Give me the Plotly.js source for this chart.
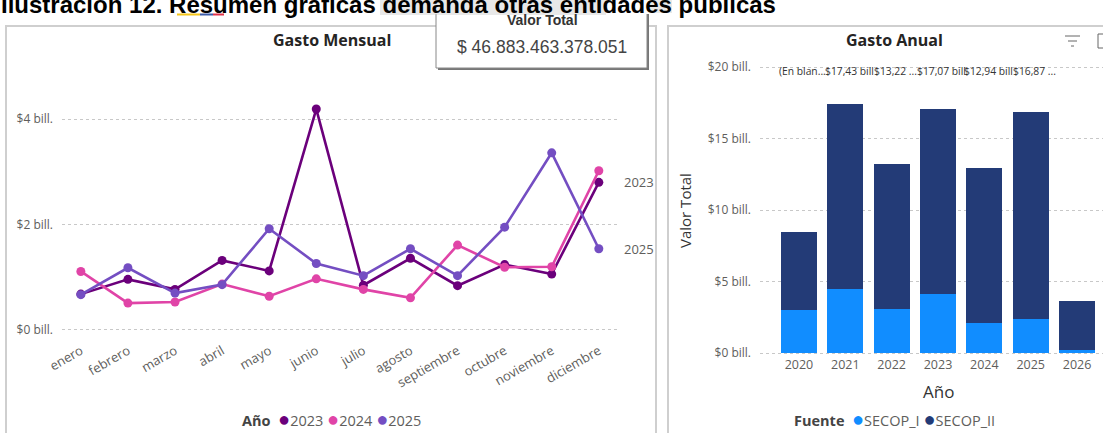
<!DOCTYPE html>
<html>
<head>
<meta charset="utf-8">
<script src="https://cdn.plot.ly/plotly-3.0.1.min.js"></script>
<style>
html,body{margin:0;padding:0;background:#fff;}
#chart{width:1103px;height:433px;}
</style>
</head>
<body>
<div id="chart"></div>
<script>
// ---------- DATA ----------
const months = ["enero","febrero","marzo","abril","mayo","junio","julio","agosto","septiembre","octubre","noviembre","diciembre"];
const years = ["2023","2024","2025"];
const yearColors = ["#6B007B","#E044A7","#744EC2"];
// monthly spend, billions of pesos
const gasto2023 = [0.68,0.96,0.77,1.32,1.12,4.19,0.85,1.36,0.84,1.24,1.06,2.80];
const gasto2024 = [1.11,0.51,0.53,0.87,0.64,0.97,0.77,0.61,1.61,1.19,1.20,3.02];
const gasto2025 = [0.67,1.18,0.70,0.86,1.92,1.26,1.03,1.54,1.03,1.95,3.36,1.54];
const monthlySeries = [gasto2023, gasto2024, gasto2025];
const endLabelYears = ["2023","2025"];
const leftTicks = [0,2,4];

const annualYears = ["2020","2021","2022","2023","2024","2025","2026"];
const fuentes = ["SECOP_I","SECOP_II"];
const fuenteColors = ["#118DFF","#233B77"];
const secopI  = [3.03,4.47,3.10,4.10,2.12,2.38,0.20];
const secopII = [5.43,12.96,10.12,12.97,10.82,14.49,3.42];
const totalLabels = ["(En blan...","$17,43 bill","$13,22 ...","$17,07 bill","$12,94 bill","$16,87 ...",""];
const rightTicks = [0,5,10,15,20];

const mainTitle = "Ilustración 12. Resumen gráficas demanda otras entidades públicas";
const cardLabel = "Valor Total";
const cardValue = "$ 46.883.463.378.051";

// ---------- HELPERS ----------
const W = 1103, H = 433;
const px = v => v / W;
const py = v => 1 - v / H;
const FONT = "Segoe UI, Open Sans, sans-serif";
const GRAY = "#605E5C";
const fmtBill = v => "$" + v + " bill.";

// ---------- TRACES ----------
const traces = [];
monthlySeries.forEach((s, i) => {
  traces.push({
    type: "scatter", mode: "lines+markers", x: months, y: s,
    name: years[i], xaxis: "x", yaxis: "y",
    line: {color: yearColors[i], width: 2.6},
    marker: {color: yearColors[i], size: 9},
    showlegend: false, hoverinfo: "x+y+name"
  });
});
[secopI, secopII].forEach((s, i) => {
  traces.push({
    type: "bar", x: annualYears, y: s, name: fuentes[i],
    xaxis: "x2", yaxis: "y2",
    marker: {color: fuenteColors[i]}, showlegend: false
  });
});

// ---------- ANNOTATIONS ----------
const ann = [];
ann.push({xref:"paper", yref:"paper", x: px(-1), y: py(20), xanchor:"left", yanchor:"bottom",
  text: "<b>" + mainTitle + "</b>", showarrow:false,
  font:{family:"Liberation Sans, Arial, sans-serif", size:24, color:"#000"}});
ann.push({xref:"paper", yref:"paper", x: px(542), y: py(20), xanchor:"center", yanchor:"middle",
  text: cardLabel, showarrow:false,
  font:{family:"Liberation Sans, Arial, sans-serif", size:14, color:"#333", weight:600}});
ann.push({xref:"paper", yref:"paper", x: px(542), y: py(47), xanchor:"center", yanchor:"middle",
  text: cardValue, showarrow:false,
  font:{family:"Liberation Sans, Arial, sans-serif", size:17.5, color:"#444"}});
// chart titles
ann.push({xref:"paper", yref:"paper", x: px(332), y: py(40), xanchor:"center", yanchor:"middle",
  text: "<b>Gasto Mensual</b>", showarrow:false, font:{family:FONT, size:16, color:"#252423"}});
ann.push({xref:"paper", yref:"paper", x: px(895), y: py(40), xanchor:"center", yanchor:"middle",
  text: "<b>Gasto Anual</b>", showarrow:false, font:{family:FONT, size:16, color:"#252423"}});
// end-of-line labels
endLabelYears.forEach(yr => {
  const i = years.indexOf(yr);
  const s = monthlySeries[i];
  ann.push({xref:"paper", yref:"y", x: px(622), y: s[s.length-1], xanchor:"left", yanchor:"middle",
    text: yr, showarrow:false, font:{family:FONT, size:13, color:GRAY}});
});
// legends
const dot = c => "<span style='color:" + c + ";font-size:20px'>●</span>";
let leg1 = "<b style='color:#444'>Año</b> ";
years.forEach((y, i) => { leg1 += " " + dot(yearColors[i]) + y; });
ann.push({xref:"paper", yref:"paper", x: px(331), y: py(418), xanchor:"center", yanchor:"middle",
  text: leg1, showarrow:false, font:{family:FONT, size:14.5, color:GRAY}});
let leg2 = "<b style='color:#444'>Fuente</b> ";
fuentes.forEach((f, i) => { leg2 += " " + dot(fuenteColors[i]) + f; });
ann.push({xref:"paper", yref:"paper", x: px(895), y: py(418), xanchor:"center", yanchor:"middle",
  text: leg2, showarrow:false, font:{family:FONT, size:14.5, color:GRAY}});
// right axis titles
ann.push({xref:"paper", yref:"paper", x: px(685), y: py(211), xanchor:"center", yanchor:"middle",
  text: "Valor Total", textangle:-90, showarrow:false, font:{family:FONT, size:15, color:"#333"}});
ann.push({xref:"paper", yref:"paper", x: px(938), y: py(391), xanchor:"center", yanchor:"middle",
  text: "Año", showarrow:false, font:{family:FONT, size:17, color:"#333"}});
// total labels row
annualYears.forEach((yr, i) => {
  if (!totalLabels[i]) return;
  ann.push({xref:"x2", yref:"paper", x: i, y: py(71), xanchor:"center", yanchor:"middle", xshift: 4,
    text: totalLabels[i], showarrow:false, font:{family:FONT, size:10.3, color:"#333"}});
});

// ---------- SHAPES ----------
const shapes = [
  {type:"rect", xref:"paper", yref:"paper", x0:px(6), x1:px(656), y0:py(26), y1:py(440),
   line:{color:"#cfcfcf", width:2}, fillcolor:"rgba(0,0,0,0)", layer:"below"},
  {type:"rect", xref:"paper", yref:"paper", x0:px(668), x1:px(1120), y0:py(26), y1:py(440),
   line:{color:"#cfcfcf", width:2}, fillcolor:"rgba(0,0,0,0)", layer:"below"},
  {type:"rect", xref:"paper", yref:"paper", x0:px(438), x1:px(649), y0:py(-3), y1:py(70),
   line:{width:0}, fillcolor:"#777", layer:"above"},
  {type:"rect", xref:"paper", yref:"paper", x0:px(436), x1:px(647), y0:py(-5), y1:py(68),
   line:{color:"#888", width:1}, fillcolor:"#fff", layer:"above"},
  {type:"rect", xref:"paper", yref:"paper", x0:0, x1:1, y0:py(-2), y1:py(14),
   line:{width:0}, fillcolor:"#fff", layer:"above"},
  {type:"rect", xref:"paper", yref:"paper", x0:px(380), x1:px(606), y0:py(-2), y1:py(15),
   line:{width:0}, fillcolor:"rgba(190,190,190,0.35)", layer:"above"},
  {type:"rect", xref:"paper", yref:"paper", x0:px(650), x1:px(672), y0:py(-2), y1:py(13),
   line:{width:0}, fillcolor:"rgba(190,190,190,0.35)", layer:"above"},
  {type:"line", xref:"paper", yref:"paper", x0:px(177), x1:px(200), y0:py(14.5), y1:py(14.5), line:{color:"#F5C518", width:2}},
  {type:"line", xref:"paper", yref:"paper", x0:px(200), x1:px(213), y0:py(14.5), y1:py(14.5), line:{color:"#3B5BA9", width:2}},
  {type:"line", xref:"paper", yref:"paper", x0:px(213), x1:px(224), y0:py(14.5), y1:py(14.5), line:{color:"#E0334A", width:2}},
  {type:"line", xref:"paper", yref:"paper", x0:px(1065), x1:px(1080), y0:py(36), y1:py(36), line:{color:"#666", width:1}},
  {type:"line", xref:"paper", yref:"paper", x0:px(1068), x1:px(1077), y0:py(41), y1:py(41), line:{color:"#666", width:1}},
  {type:"line", xref:"paper", yref:"paper", x0:px(1071), x1:px(1074), y0:py(46), y1:py(46), line:{color:"#666", width:1}},
  {type:"rect", xref:"paper", yref:"paper", x0:px(1098), x1:px(1110), y0:py(34), y1:py(48), line:{color:"#666", width:1}, fillcolor:"rgba(0,0,0,0)"}
];

// ---------- LAYOUT ----------
const layout = {
  width: W, height: H,
  margin: {l:0, r:0, t:0, b:0},
  paper_bgcolor: "#fff", plot_bgcolor: "rgba(0,0,0,0)",
  font: {family: FONT, color: GRAY},
  showlegend: false,
  barmode: "stack", bargap: 0.22,
  xaxis: {
    domain: [px(62), px(620)], range: [-0.4, 11.45], type: "category",
    showgrid: false, zeroline: false, showline: false, ticks: "",
    tickangle: -30, tickfont: {family: FONT, size: 13, color: GRAY},
    anchor: "y", fixedrange: true
  },
  yaxis: {
    domain: [py(340), py(60)], range: [-0.19, 5.12],
    tickvals: leftTicks, ticktext: leftTicks.map(fmtBill),
    showgrid: true, gridcolor: "#c8c8c8", griddash: "dot", gridwidth: 1,
    zeroline: false, showline: false, ticks: "", ticklabelstandoff: 8,
    tickfont: {family: FONT, size: 12, color: GRAY}, anchor: "x", fixedrange: true
  },
  xaxis2: {
    domain: [px(760), 1], range: [-0.84, 6.56], type: "category",
    showgrid: false, zeroline: false, showline: false, ticks: "",
    tickfont: {family: FONT, size: 12.5, color: GRAY}, anchor: "y2", fixedrange: true
  },
  yaxis2: {
    domain: [py(355), py(60)], range: [-0.14, 20.49],
    tickvals: rightTicks, ticktext: rightTicks.map(fmtBill),
    showgrid: true, gridcolor: "#c8c8c8", griddash: "dot", gridwidth: 1,
    zeroline: false, showline: false, ticks: "", ticklabelstandoff: 8,
    tickfont: {family: FONT, size: 12, color: GRAY}, anchor: "x2", fixedrange: true
  },
  annotations: ann,
  shapes: shapes
};

Plotly.newPlot("chart", traces, layout, {displayModeBar: false, staticPlot: true});
</script>
</body>
</html>
